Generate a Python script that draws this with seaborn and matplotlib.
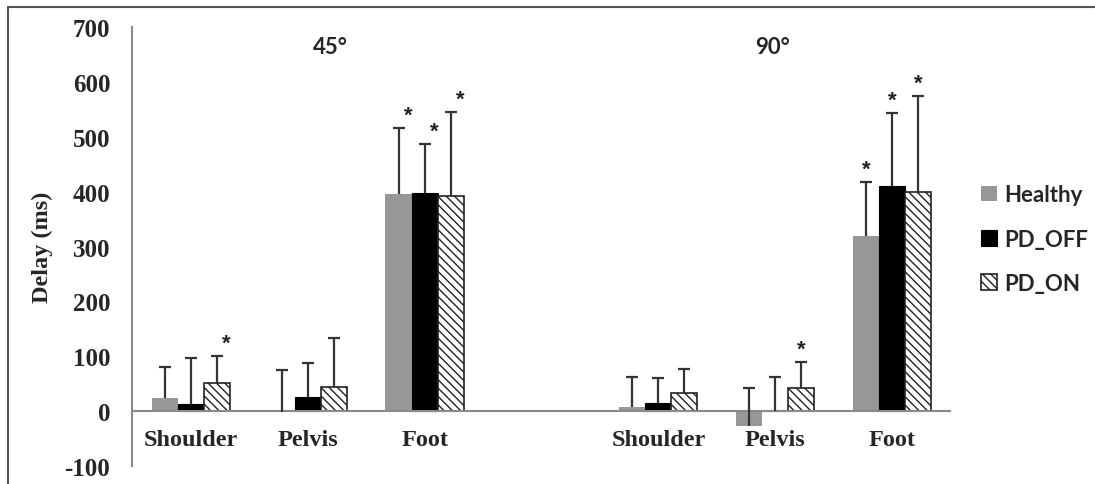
import numpy as np
import pandas as pd
import matplotlib
matplotlib.use("Agg")
import matplotlib.pyplot as plt
from matplotlib.lines import Line2D
import seaborn as sns

# ---- data ----
slot_order = ["45_Shoulder", "45_Pelvis", "45_Foot", "gap",
              "90_Shoulder", "90_Pelvis", "90_Foot"]
slot_labels = ["Shoulder", "Pelvis", "Foot", "", "Shoulder", "Pelvis", "Foot"]
sites = ["45_Shoulder", "45_Pelvis", "45_Foot",
         "90_Shoulder", "90_Pelvis", "90_Foot"]
groups = ["Healthy", "PD_OFF", "PD_ON"]

healthy_mean = [24, -2, 396, 7, -27, 320]
healthy_sd = [56, 77, 120, 56, 69, 97]
pd_off_mean = [14, 25, 397, 15, 1, 411]
pd_off_sd = [83, 63, 90, 45, 61, 133]
pd_on_mean = [51, 44, 393, 33, 43, 400]
pd_on_sd = [49, 89, 152, 44, 46, 175]

healthy_star = [0, 0, 1, 0, 0, 1]
pd_off_star = [0, 0, 1, 0, 0, 1]
pd_on_star = [1, 0, 1, 0, 1, 1]

angle_titles = ["45°", "90°"]

means = {"Healthy": healthy_mean, "PD_OFF": pd_off_mean, "PD_ON": pd_on_mean}
sds = {"Healthy": healthy_sd, "PD_OFF": pd_off_sd, "PD_ON": pd_on_sd}
stars = {"Healthy": healthy_star, "PD_OFF": pd_off_star, "PD_ON": pd_on_star}

rows = []
for g in groups:
    for i, s in enumerate(sites):
        rows.append({"slot": s, "group": g, "delay": means[g][i],
                     "sd": sds[g][i], "star": stars[g][i]})
df = pd.DataFrame(rows)

# ---- style ----
sns.set_style("white")
plt.rcParams["font.family"] = ["Liberation Serif", "DejaVu Serif"]
plt.rcParams["hatch.linewidth"] = 1.0
plt.rcParams["hatch.color"] = "#333333"

fig = plt.figure(figsize=(10.95, 4.85), dpi=100)
ax = fig.add_axes([0.121, 0.037, 0.747, 0.905])

sns.barplot(data=df, x="slot", y="delay", hue="group", order=slot_order,
            hue_order=groups, palette=["#979797", "#000000", "#ffffff"],
            width=0.67, errorbar=None, saturation=1, ax=ax, legend=False)

# style bars, add one-sided error bars and significance stars
for g, cont in zip(groups, ax.containers):
    cont.set_label(g)
    for p in cont.patches:
        if g == "PD_ON":
            p.set_hatch("\\\\\\\\")
            p.set_edgecolor("#222222")
            p.set_linewidth(1.2)
        elif g == "PD_OFF":
            p.set_edgecolor("#000000")
            p.set_linewidth(0.8)
        else:
            p.set_edgecolor("none")
        xc = p.get_x() + p.get_width() / 2
        slot = slot_order[int(round(xc))]
        r = df[(df["slot"] == slot) & (df["group"] == g)].iloc[0]
        eb = ax.errorbar(xc, r["delay"], yerr=[[0], [r["sd"]]], fmt="none",
                         ecolor="#333333", elinewidth=1.6, capsize=4,
                         capthick=1.6, zorder=3)
        # keep only the upper cap
        for cap in eb[1]:
            if np.isclose(cap.get_ydata()[0], r["delay"]):
                cap.set_visible(False)
        if r["star"]:
            dx = 0.08 if slot.startswith("45") else 0.0
            ax.text(xc + dx, r["delay"] + r["sd"] + 4, "*", ha="center",
                    va="bottom", fontsize=16, fontweight="bold",
                    family=["Liberation Sans"], color="#222222")

# axes
ax.set_ylim(-100, 700)
ax.set_xlim(-0.5, 6.5)
ax.set_yticks(np.arange(-100, 701, 100))
ax.set_yticklabels([str(v) for v in range(-100, 701, 100)],
                   fontsize=18, fontweight="bold")
ax.set_ylabel("Delay (ms)", fontsize=17.5, fontweight="bold", labelpad=8)
ax.set_xlabel("")

ax.spines["top"].set_visible(False)
ax.spines["right"].set_visible(False)
ax.spines["bottom"].set_position(("data", 0))
for sp in ("left", "bottom"):
    ax.spines[sp].set_color("#8a8a8a")
    ax.spines[sp].set_linewidth(1.5)

ax.set_xticks(np.arange(-0.5, 7, 1.0))
ax.set_xticklabels([])
ax.set_xticks(np.arange(len(slot_order)), minor=True)
ax.set_xticklabels(slot_labels, minor=True, fontsize=17.5, fontweight="bold")
ax.tick_params(axis="x", which="major", direction="out", length=4,
               width=1.2, color="#8a8a8a")
ax.tick_params(axis="x", which="minor", length=0, pad=13)
ax.tick_params(axis="y", direction="out", length=6, width=1.2,
               color="#8a8a8a", pad=10)

# panel titles
ax.text(1.19, 665, angle_titles[0], ha="center", va="center", fontsize=16,
        fontweight="bold", family=["Lato", "DejaVu Sans"])
ax.text(4.98, 665, angle_titles[1], ha="center", va="center", fontsize=16,
        fontweight="bold", family=["Lato", "DejaVu Sans"])

# legend
leg = ax.legend(ax.containers, groups, loc="center left",
                bbox_to_anchor=(0.886, 0.505), bbox_transform=fig.transFigure,
                frameon=False, handlelength=0.7, handleheight=0.7,
                handletextpad=0.35, labelspacing=1.05, borderpad=0,
                prop={"family": ["Lato", "DejaVu Sans"], "weight": "bold",
                      "size": 16})

# outer frame
fig.add_artist(Line2D([0.0073, 1.0], [0.9835, 0.9835],
                      transform=fig.transFigure, color="#555555", lw=1.5))
fig.add_artist(Line2D([0.0073, 0.0073], [0.0, 0.9835],
                      transform=fig.transFigure, color="#555555", lw=1.5))

fig.savefig("out.png", dpi=100)
